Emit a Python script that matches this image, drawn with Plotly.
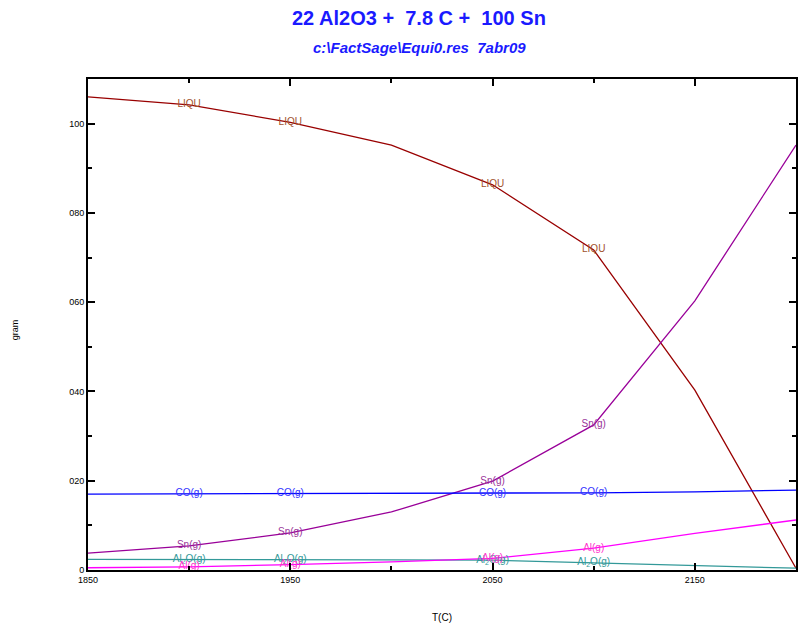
import plotly.graph_objects as go

T = [1850, 1900, 1950, 2000, 2050, 2100, 2150, 2200]
liqu = [106.0, 104.2, 100.3, 95.2, 86.3, 71.7, 40.3, 0.4]
sn_g = [3.8, 5.4, 8.3, 13.0, 19.9, 32.5, 60.3, 95.2]
co_g = [17.0, 17.05, 17.1, 17.15, 17.2, 17.3, 17.5, 17.9]
al2o_g = [2.4, 2.4, 2.3, 2.25, 2.2, 1.6, 1.0, 0.4]
al_g = [0.5, 0.7, 1.2, 1.8, 2.6, 4.9, 8.2, 11.2]
label_T = [1900, 1950, 2050, 2100]

y_tickvals = [0, 20, 40, 60, 80, 100]
y_ticktext = ["0", "020", "040", "060", "080", "100"]
x_tickvals = [1850, 1950, 2050, 2150]
x_ticktext = ["1850", "1950", "2050", "2150"]

series = [
    ("LIQU", liqu, "#990000", "#a0522d", "LIQU"),
    ("Sn(g)", sn_g, "#990099", "#993399", "Sn(g)"),
    ("CO(g)", co_g, "#0000ff", "#3333ff", "CO(g)"),
    ("Al2O(g)", al2o_g, "#339999", "#339999", "Al<sub>2</sub>O(g)"),
    ("Al(g)", al_g, "#ff00ff", "#ff33cc", "Al(g)"),
]

fig = go.Figure()
for name, vals, lc, tc, lab in series:
    fig.add_trace(go.Scatter(x=T, y=vals, mode="lines", name=name,
                             line=dict(color=lc, width=1.3), showlegend=False,
                             hoverinfo="skip"))
for name, vals, lc, tc, lab in series:
    ly = [vals[T.index(t)] for t in label_T]
    fig.add_trace(go.Scatter(x=label_T, y=ly, mode="text", text=[lab] * len(label_T),
                             textposition="middle center",
                             textfont=dict(family="Arial, Liberation Sans", size=10, color=tc),
                             showlegend=False, hoverinfo="skip"))

axis_font = dict(family="Arial, Liberation Sans", size=9, color="black")
fig.update_layout(
    width=798, height=628,
    margin=dict(l=88, r=0, t=79, b=58),
    paper_bgcolor="white", plot_bgcolor="white",
    xaxis=dict(range=[1850, 2200], tickvals=x_tickvals, ticktext=x_ticktext,
               ticks="inside", ticklen=7, tickwidth=1.5, tickcolor="black",
               showline=True, linecolor="black", linewidth=2, mirror="ticks",
               showgrid=False, zeroline=False, tickfont=axis_font,
               minor=dict(dtick=50, tick0=1850, ticks="inside", ticklen=4, tickcolor="black", tickwidth=1.5)),
    yaxis=dict(range=[0, 110], tickvals=y_tickvals, ticktext=y_ticktext,
               ticks="inside", ticklen=7, tickwidth=1.5, tickcolor="black",
               showline=True, linecolor="black", linewidth=2, mirror="ticks",
               showgrid=False, zeroline=False, tickfont=axis_font,
               minor=dict(dtick=10, tick0=0, ticks="inside", ticklen=4, tickcolor="black", tickwidth=1.5)),
    annotations=[
        dict(text="<b>22 Al2O3 +  7.8 C +  100 Sn</b>", x=0.527, y=18, xref="paper", yref="paper",
             showarrow=False, font=dict(family="Arial, Liberation Sans", size=20, color="#1a1aff")),
        dict(text="<b><i>c:\\FactSage\\Equi0.res  7abr09</i></b>", x=0.527, y=47, xref="paper", yref="paper",
             showarrow=False, font=dict(family="Arial, Liberation Sans", size=15, color="#1a1aff")),
        dict(text="T(C)", x=443, y=617, xref="paper", yref="paper", showarrow=False,
             font=dict(family="Arial, Liberation Sans", size=10, color="black")),
        dict(text="gram", x=15, y=330, xref="paper", yref="paper", showarrow=False, textangle=-90,
             font=dict(family="Arial, Liberation Sans", size=9, color="black")),
    ],
)
# convert pixel-based annotation positions to paper coords
pw, ph = 798 - 88 - 0, 628 - 79 - 58
new = []
for a in fig.layout.annotations:
    a = a.to_plotly_json()
    px, py = a["x"], a["y"]
    if a["text"].startswith("<b>22") or a["text"].startswith("<b><i>"):
        px = 420
    a["x"] = (px - 88) / pw
    a["y"] = 1 - (py - 79) / ph
    a["xanchor"] = "center"
    a["yanchor"] = "middle"
    new.append(a)
fig.layout.annotations = new

fig.write_html("out.html")
